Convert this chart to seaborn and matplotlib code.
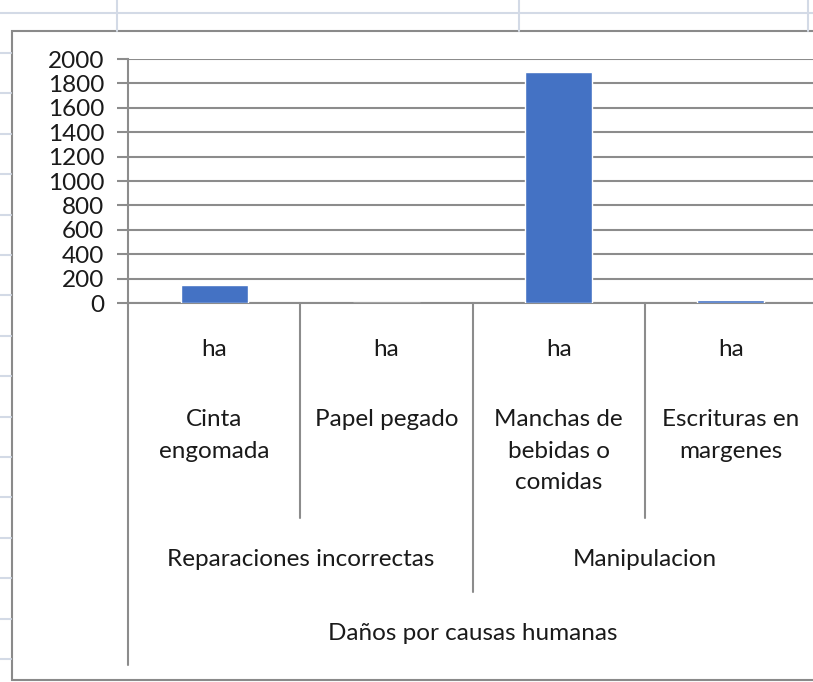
import pandas as pd
import matplotlib

matplotlib.use("Agg")
import matplotlib.pyplot as plt
import seaborn as sns
from matplotlib.lines import Line2D
from matplotlib.patches import Rectangle
from matplotlib.transforms import blended_transform_factory

# data
damage = ["Cinta\nengomada", "Papel pegado", "Manchas de\nbebidas o\ncomidas", "Escrituras en\nmargenes"]
units = ["ha", "ha", "ha", "ha"]
groups = ["Reparaciones incorrectas", "Manipulacion"]
group_spans = [(0, 1), (2, 3)]
top_label = "Daños por causas humanas"
values = [150, 0, 1890, 25]

W, H = 813, 682
BAR_BLUE = "#4472C4"
GRID = "#8c8c8c"
SHEET = "#d3dae6"
FS = 17.5

sns.set_theme(style="white")
plt.rcParams["font.family"] = ["Lato", "DejaVu Sans"]

fig = plt.figure(figsize=(W / 100, H / 100), dpi=100)


def fx(px):
    return px / W


def fy(py):
    return 1 - py / H


# spreadsheet cell lines peeking around the chart object
fig.add_artist(Line2D([0, 1], [fy(13), fy(13)], color=SHEET, lw=1.5))
for xp in [117, 519, 808]:
    fig.add_artist(Line2D([fx(xp), fx(xp)], [fy(0), fy(31)], color=SHEET, lw=1.5))
for k in range(16):
    yp = 53 + 40.4 * k
    fig.add_artist(Line2D([0, fx(11)], [fy(yp), fy(yp)], color=SHEET, lw=1.5))

# chart object border
fig.add_artist(Rectangle((fx(12), fy(680)), fx(900) - fx(12), fy(31) - fy(680),
                         fill=True, facecolor="white", edgecolor="#8a8a8a", lw=1.5, zorder=0))

ax = fig.add_axes([fx(128), fy(303), fx(817) - fx(128), fy(59) - fy(303)])
ax.set_facecolor("none")

df = pd.DataFrame({"cat": damage, "val": values})
sns.barplot(data=df, x="cat", y="val", color=BAR_BLUE, saturation=1, width=0.39, ax=ax, zorder=3)

ax.set_ylim(0, 2000)
ax.set_xlim(-0.5, 3.5)
ax.set_yticks(range(0, 2001, 200))
ax.yaxis.grid(True, color=GRID, lw=1.5)
ax.set_axisbelow(True)
ax.tick_params(axis="y", length=8, width=1.5, color=GRID, direction="out", pad=9,
               labelsize=FS, labelcolor="#1a1a1a", left=True)
ax.set_xticks([])
ax.set_xlabel("")
ax.set_ylabel("")
for s in ["top", "right"]:
    ax.spines[s].set_visible(False)
for s in ["left", "bottom"]:
    ax.spines[s].set_color(GRID)
    ax.spines[s].set_linewidth(1.5)

# multi-level category axis
tr = blended_transform_factory(ax.transData, fig.transFigure)
txt = dict(transform=tr, ha="center", fontsize=FS, color="#1a1a1a", clip_on=False)
for i, (u, d) in enumerate(zip(units, damage)):
    ax.text(i, fy(349), u, va="center", **txt)
    ax.text(i, fy(409), d, va="top", linespacing=1.62, **txt)

line = dict(transform=tr, color=GRID, lw=1.5, clip_on=False)
for xb in [0.5, 2.5]:
    ax.add_line(Line2D([xb, xb], [fy(303), fy(518)], **line))
ax.add_line(Line2D([1.5, 1.5], [fy(303), fy(592)], **line))
ax.add_line(Line2D([-0.5, -0.5], [fy(303), fy(665)], **line))

for g, (a, b) in zip(groups, group_spans):
    ax.text((a + b) / 2, fy(560), g, va="center", **txt)
ax.text(1.5, fy(634), top_label, va="center", **txt)

fig.savefig("out.png", dpi=100)
